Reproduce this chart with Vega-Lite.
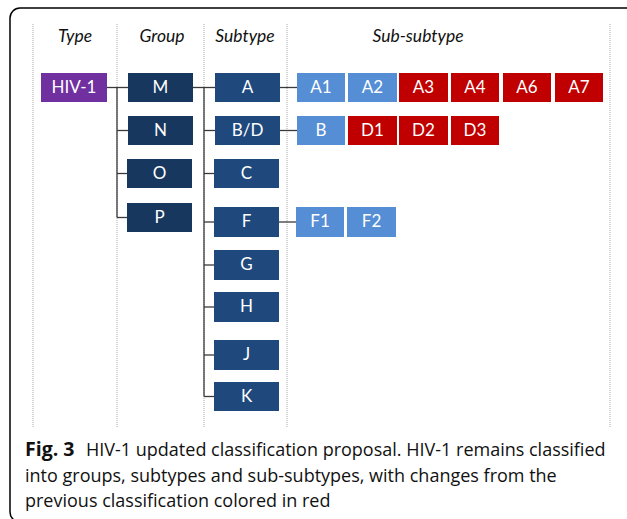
{
  "$schema": "https://vega.github.io/schema/vega-lite/v6.json",
  "width": 627,
  "height": 519,
  "autosize": {"type": "none"},
  "padding": 0,
  "background": "white",
  "config": {"view": {"stroke": null}},
  "datasets": {
    "boxes": [
      {"label": "HIV-1", "kind": "type", "x1": 41, "x2": 107, "y1": 73, "y2": 102, "cx": 74, "cy": 87.5},
      {"label": "M", "kind": "group", "x1": 128, "x2": 193, "y1": 73, "y2": 102, "cx": 160.5, "cy": 87.5},
      {"label": "N", "kind": "group", "x1": 128, "x2": 193, "y1": 116, "y2": 145, "cx": 160.5, "cy": 130.5},
      {"label": "O", "kind": "group", "x1": 127, "x2": 192, "y1": 159, "y2": 188, "cx": 159.5, "cy": 173.5},
      {"label": "P", "kind": "group", "x1": 127, "x2": 192, "y1": 203, "y2": 232, "cx": 159.5, "cy": 217.5},
      {"label": "A", "kind": "subtype", "x1": 215, "x2": 280, "y1": 73, "y2": 102, "cx": 247.5, "cy": 87.5},
      {"label": "B/D", "kind": "subtype", "x1": 215, "x2": 280, "y1": 116, "y2": 145, "cx": 247.5, "cy": 130.5},
      {"label": "C", "kind": "subtype", "x1": 214, "x2": 279, "y1": 159, "y2": 188, "cx": 246.5, "cy": 173.5},
      {"label": "F", "kind": "subtype", "x1": 214, "x2": 279, "y1": 207, "y2": 237, "cx": 246.5, "cy": 222},
      {"label": "G", "kind": "subtype", "x1": 214, "x2": 279, "y1": 250, "y2": 280, "cx": 246.5, "cy": 265},
      {"label": "H", "kind": "subtype", "x1": 214, "x2": 279, "y1": 292, "y2": 322, "cx": 246.5, "cy": 307},
      {"label": "J", "kind": "subtype", "x1": 214, "x2": 279, "y1": 340, "y2": 370, "cx": 246.5, "cy": 355},
      {"label": "K", "kind": "subtype", "x1": 214, "x2": 279, "y1": 382, "y2": 411, "cx": 246.5, "cy": 396.5},
      {"label": "A1", "kind": "kept", "x1": 297, "x2": 345, "y1": 73, "y2": 102, "cx": 321, "cy": 87.5},
      {"label": "A2", "kind": "kept", "x1": 348, "x2": 397, "y1": 73, "y2": 102, "cx": 372.5, "cy": 87.5},
      {"label": "A3", "kind": "changed", "x1": 399, "x2": 448, "y1": 73, "y2": 102, "cx": 423.5, "cy": 87.5},
      {"label": "A4", "kind": "changed", "x1": 451, "x2": 499, "y1": 73, "y2": 102, "cx": 475, "cy": 87.5},
      {"label": "A6", "kind": "changed", "x1": 503, "x2": 551, "y1": 73, "y2": 102, "cx": 527, "cy": 87.5},
      {"label": "A7", "kind": "changed", "x1": 555, "x2": 603, "y1": 73, "y2": 102, "cx": 579, "cy": 87.5},
      {"label": "B", "kind": "kept", "x1": 297, "x2": 345, "y1": 116, "y2": 145, "cx": 321, "cy": 130.5},
      {"label": "D1", "kind": "changed", "x1": 348, "x2": 397, "y1": 116, "y2": 145, "cx": 372.5, "cy": 130.5},
      {"label": "D2", "kind": "changed", "x1": 399, "x2": 448, "y1": 116, "y2": 145, "cx": 423.5, "cy": 130.5},
      {"label": "D3", "kind": "changed", "x1": 451, "x2": 499, "y1": 116, "y2": 145, "cx": 475, "cy": 130.5},
      {"label": "F1", "kind": "kept", "x1": 296, "x2": 344, "y1": 207, "y2": 237, "cx": 320, "cy": 222},
      {"label": "F2", "kind": "kept", "x1": 347, "x2": 396, "y1": 207, "y2": 237, "cx": 371.5, "cy": 222}
    ],
    "links": [
      {"x1": 107, "y1": 87.5, "x2": 128, "y2": 87.5},
      {"x1": 117, "y1": 87.5, "x2": 117, "y2": 217.5},
      {"x1": 117, "y1": 130.5, "x2": 128, "y2": 130.5},
      {"x1": 117, "y1": 173.5, "x2": 127, "y2": 173.5},
      {"x1": 117, "y1": 217.5, "x2": 127, "y2": 217.5},
      {"x1": 193, "y1": 87.5, "x2": 215, "y2": 87.5},
      {"x1": 204, "y1": 87.5, "x2": 204, "y2": 396.5},
      {"x1": 204, "y1": 130.5, "x2": 215, "y2": 130.5},
      {"x1": 204, "y1": 173.5, "x2": 214, "y2": 173.5},
      {"x1": 204, "y1": 222, "x2": 214, "y2": 222},
      {"x1": 204, "y1": 265, "x2": 214, "y2": 265},
      {"x1": 204, "y1": 307, "x2": 214, "y2": 307},
      {"x1": 204, "y1": 355, "x2": 214, "y2": 355},
      {"x1": 204, "y1": 396.5, "x2": 214, "y2": 396.5},
      {"x1": 280, "y1": 87.5, "x2": 297, "y2": 87.5},
      {"x1": 280, "y1": 130.5, "x2": 297, "y2": 130.5},
      {"x1": 279, "y1": 222, "x2": 296, "y2": 222}
    ],
    "guides": [
      {"x": 33, "y1": 24, "y2": 428},
      {"x": 117, "y1": 24, "y2": 428},
      {"x": 204, "y1": 24, "y2": 428},
      {"x": 287, "y1": 24, "y2": 428},
      {"x": 610, "y1": 24, "y2": 428}
    ],
    "headers": [
      {"label": "Type", "x": 75, "y": 42},
      {"label": "Group", "x": 162, "y": 42},
      {"label": "Subtype", "x": 245, "y": 42},
      {"label": "Sub-subtype", "x": 418, "y": 42}
    ],
    "caption": [
      {"label": "Fig. 3", "x": 25, "y": 456, "bold": true},
      {"label": "HIV-1 updated classification proposal. HIV-1 remains classified", "x": 86, "y": 456, "bold": false},
      {"label": "into groups, subtypes and sub-subtypes, with changes from the", "x": 25, "y": 481.5, "bold": false},
      {"label": "previous classification colored in red", "x": 25, "y": 507, "bold": false}
    ],
    "frame": [
      {"x1": 10, "x2": 640, "y1": 8, "y2": 522}
    ]
  },
  "layer": [
    {
      "data": {"name": "frame"},
      "mark": {"type": "rect", "fill": null, "stroke": "#000000", "strokeWidth": 1.5, "cornerRadius": 10},
      "encoding": {
        "x": {"field": "x1", "type": "quantitative", "scale": {"domain": [0, 627], "nice": false, "zero": false}, "axis": null},
        "x2": {"field": "x2"},
        "y": {"field": "y1", "type": "quantitative", "scale": {"domain": [0, 519], "nice": false, "zero": false, "reverse": true}, "axis": null},
        "y2": {"field": "y2"}
      }
    },
    {
      "data": {"name": "guides"},
      "mark": {"type": "rule", "stroke": "#aaaaaa", "strokeWidth": 1, "strokeDash": [1, 1]},
      "encoding": {
        "x": {"field": "x", "type": "quantitative"},
        "y": {"field": "y1", "type": "quantitative"},
        "y2": {"field": "y2"}
      }
    },
    {
      "data": {"name": "links"},
      "mark": {"type": "rule", "stroke": "#3a3a3a", "strokeWidth": 1.3},
      "encoding": {
        "x": {"field": "x1", "type": "quantitative"},
        "x2": {"field": "x2"},
        "y": {"field": "y1", "type": "quantitative"},
        "y2": {"field": "y2"}
      }
    },
    {
      "data": {"name": "boxes"},
      "mark": {"type": "rect", "fill": "#9a9a9a", "opacity": 0.45, "xOffset": 1.5, "yOffset": 2},
      "encoding": {
        "x": {"field": "x1", "type": "quantitative"},
        "x2": {"field": "x2"},
        "y": {"field": "y1", "type": "quantitative"},
        "y2": {"field": "y2"}
      }
    },
    {
      "data": {"name": "boxes"},
      "mark": {"type": "rect"},
      "encoding": {
        "x": {"field": "x1", "type": "quantitative"},
        "x2": {"field": "x2"},
        "y": {"field": "y1", "type": "quantitative"},
        "y2": {"field": "y2"},
        "color": {
          "field": "kind", "type": "nominal", "legend": null,
          "scale": {"domain": ["type", "group", "subtype", "kept", "changed"], "range": ["#7030A0", "#17375E", "#1F497D", "#558ED5", "#C00000"]}
        }
      }
    },
    {
      "data": {"name": "boxes"},
      "mark": {"type": "text", "color": "white", "font": "Lato", "fontSize": 17, "align": "center", "baseline": "middle"},
      "encoding": {
        "x": {"field": "cx", "type": "quantitative"},
        "y": {"field": "cy", "type": "quantitative"},
        "text": {"field": "label"}
      }
    },
    {
      "data": {"name": "headers"},
      "mark": {"type": "text", "color": "#111111", "font": "Lato", "fontStyle": "italic", "fontSize": 17.5, "align": "center", "baseline": "alphabetic"},
      "encoding": {
        "x": {"field": "x", "type": "quantitative"},
        "y": {"field": "y", "type": "quantitative"},
        "text": {"field": "label"}
      }
    },
    {
      "data": {"name": "caption"},
      "transform": [{"filter": "datum.bold"}],
      "mark": {"type": "text", "color": "#111111", "font": "Open Sans", "fontWeight": "bold", "fontSize": 19.5, "align": "left", "baseline": "alphabetic"},
      "encoding": {
        "x": {"field": "x", "type": "quantitative"},
        "y": {"field": "y", "type": "quantitative"},
        "text": {"field": "label"}
      }
    },
    {
      "data": {"name": "caption"},
      "transform": [{"filter": "!datum.bold"}],
      "mark": {"type": "text", "color": "#111111", "font": "Open Sans", "fontSize": 18, "align": "left", "baseline": "alphabetic"},
      "encoding": {
        "x": {"field": "x", "type": "quantitative"},
        "y": {"field": "y", "type": "quantitative"},
        "text": {"field": "label"}
      }
    }
  ]
}
